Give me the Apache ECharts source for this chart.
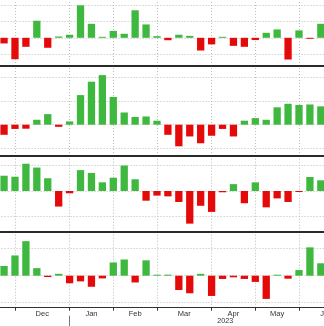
<!DOCTYPE html>
<html><head><meta charset="utf-8">
<script src="https://cdn.jsdelivr.net/npm/echarts@6/dist/echarts.min.js"></script>
<style>html,body{margin:0;padding:0;background:#fff;overflow:hidden}#c{width:324px;height:326px}</style>
</head><body><div id="c"></div>
<script>
// ---- data ----
const weeks = ['2022-11-25','2022-12-02','2022-12-09','2022-12-16','2022-12-23','2022-12-30',
  '2023-01-06','2023-01-13','2023-01-20','2023-01-27','2023-02-03','2023-02-10','2023-02-17','2023-02-24',
  '2023-03-03','2023-03-10','2023-03-17','2023-03-24','2023-03-31','2023-04-07','2023-04-14','2023-04-21',
  '2023-04-28','2023-05-05','2023-05-12','2023-05-19','2023-05-26','2023-06-02','2023-06-09','2023-06-16'];
const monthStartIdx = [1, 6, 10, 14, 19, 23, 27];
const yearStartIdx = [6];
const monthNames = ['Dec', 'Jan', 'Feb', 'Mar', 'Apr', 'May', 'Jun'];
const monthLabelPos = [3.5, 8, 12, 16.5, 21, 25, 29.5];
const yearNames = ['2023'];
const yearLabelPos = [20.25];

const panel1 = [-0.35, -1.33, -0.56, 1.06, -0.62, 0.08, 0.19, 2.02, 0.87, 0.04, 0.43, 0.25, 1.71, 0.83, 0.10,
  -0.15, 0.19, 0.12, -0.79, -0.41, 0.04, -0.50, -0.56, -0.14, 0.31, 0.52, -1.35, 0.46, -0.03, 0.87];
const panel2 = [-0.43, -0.18, -0.17, 0.21, 0.45, -0.09, 0.14, 1.26, 1.83, 2.11, 1.18, 0.52, 0.33, 0.35, 0.17,
  -0.43, -0.92, -0.50, -0.79, -0.47, -0.18, -0.50, 0.17, 0.28, 0.21, 0.74, 0.89, 0.84, 0.86, 0.78];
const panel3 = [0.60, 0.56, 1.07, 0.92, 0.50, -0.61, -0.09, 0.82, 0.71, 0.34, 0.52, 1.00, 0.46, -0.38, -0.18,
  -0.21, -0.43, -1.28, -0.58, -0.82, -0.05, 0.27, -0.48, 0.34, -0.64, -0.29, -0.43, -0.02, 0.55, 0.42];
const panel4 = [0.36, 0.75, 1.28, 0.28, -0.05, 0.07, -0.28, -0.21, -0.41, -0.10, 0.49, 0.60, -0.25, 0.57, 0.02,
  0.04, -0.53, -0.65, 0.07, -0.75, -0.12, -0.06, -0.12, -0.23, -0.86, 0.03, -0.11, 0.21, 1.05, 0.46];

const gridValues1 = [-1, 0, 1, 2];
const gridValues2 = [-1, 0, 1, 2];
const gridValues3 = [-1, 0, 1];
const gridValues4 = [-1, 0, 1];

// ---- layout / style ----
const GREEN = '#3fb83f', RED = '#e50a0a', GRIDC = '#bcbcbc', SEP = '#2a2a2a';
const FONT = 'Liberation Sans, Arial, sans-serif';
const panels = [
  { data: panel1, grid: gridValues1, top: 0, height: 66, min: -1.752, max: 2.348 },
  { data: panel2, grid: gridValues2, top: 66, height: 90, min: -1.332, max: 2.498 },
  { data: panel3, grid: gridValues3, top: 156, height: 75.7, min: -1.596, max: 1.373 },
  { data: panel4, grid: gridValues4, top: 231.7, height: 76, min: -1.185, max: 1.63 }
];

const grid = [], xAxis = [], yAxis = [], series = [];
panels.forEach((p, k) => {
  const last = k === panels.length - 1;
  grid.push({ left: -1.4, right: -2.3, top: p.top, height: p.height, outerBoundsMode: 'none', containLabel: false });
  xAxis.push({
    type: 'category', gridIndex: k, data: weeks, position: 'bottom', z: 4,
    axisLine: { show: true, onZero: false, lineStyle: { color: last ? '#333' : SEP, width: last ? 1.2 : 2 } },
    axisTick: last ? { show: true, alignWithLabel: true, length: 3, interval: (i) => monthStartIdx.includes(i),
      lineStyle: { color: '#333', width: 1 } } : { show: false },
    axisLabel: { show: false }, splitLine: { show: false }
  });
  yAxis.push({
    type: 'value', gridIndex: k, min: p.min, max: p.max, show: true,
    axisLine: { show: false }, axisTick: { show: false }, axisLabel: { show: false }, splitLine: { show: false }
  });
  // gridlines behind bars
  series.push({
    type: 'line', xAxisIndex: k, yAxisIndex: k, data: weeks.map(() => null), symbol: 'none', z: 1,
    silent: true, animation: false,
    markLine: {
      z: 1, silent: true, symbol: ['none', 'none'], label: { show: false }, animation: false,
      lineStyle: { color: GRIDC, type: [1, 2], width: 1 },
      emphasis: { disabled: true },
      data: [
        ...p.grid.map(v => ({ yAxis: v })),
        ...monthStartIdx.map(i => ({ xAxis: weeks[i] }))
      ]
    }
  });
  series.push({
    type: 'bar', xAxisIndex: k, yAxisIndex: k, data: p.data, barWidth: 7.3, barMinHeight: 1, z: 2,
    animation: false, silent: true,
    itemStyle: { color: (prm) => prm.value >= 0 ? GREEN : RED }
  });
});

// month labels, year label and year separator on the bottom panel
xAxis.push({
  type: 'value', gridIndex: 3, position: 'bottom', min: -0.5, max: 29.5, interval: 0.5,
  axisLine: { show: false, onZero: false }, axisTick: { show: false }, splitLine: { show: false },
  axisLabel: { show: true, margin: 2, fontSize: 7.5, color: '#333', fontFamily: FONT, hideOverlap: false,
    showMinLabel: true, showMaxLabel: true,
    formatter: (v) => { const j = monthLabelPos.findIndex(q => Math.abs(q - v) < 1e-6); return j >= 0 ? monthNames[j] : ''; } }
});
xAxis.push({
  type: 'value', gridIndex: 3, position: 'bottom', offset: 8, min: -0.5, max: 29.5, interval: 0.25,
  axisLine: { show: false, onZero: false }, axisTick: { show: false }, splitLine: { show: false },
  axisLabel: { show: true, margin: 1.5, fontSize: 7.2, color: '#333', fontFamily: FONT, hideOverlap: false,
    formatter: (v) => { const j = yearLabelPos.findIndex(q => Math.abs(q - v) < 1e-6); return j >= 0 ? yearNames[j] : ''; } }
});
xAxis.push({
  type: 'category', gridIndex: 3, position: 'bottom', offset: 8, data: weeks,
  axisLine: { show: false, onZero: false }, splitLine: { show: false }, axisLabel: { show: false },
  axisTick: { show: true, alignWithLabel: true, length: 12, interval: (i) => yearStartIdx.includes(i),
    lineStyle: { color: '#777', width: 1 } }
});

const chart = echarts.init(document.getElementById('c'), null, { renderer: 'canvas' });
chart.setOption({ animation: false, backgroundColor: '#fff', grid, xAxis, yAxis, series });
</script></body></html>
